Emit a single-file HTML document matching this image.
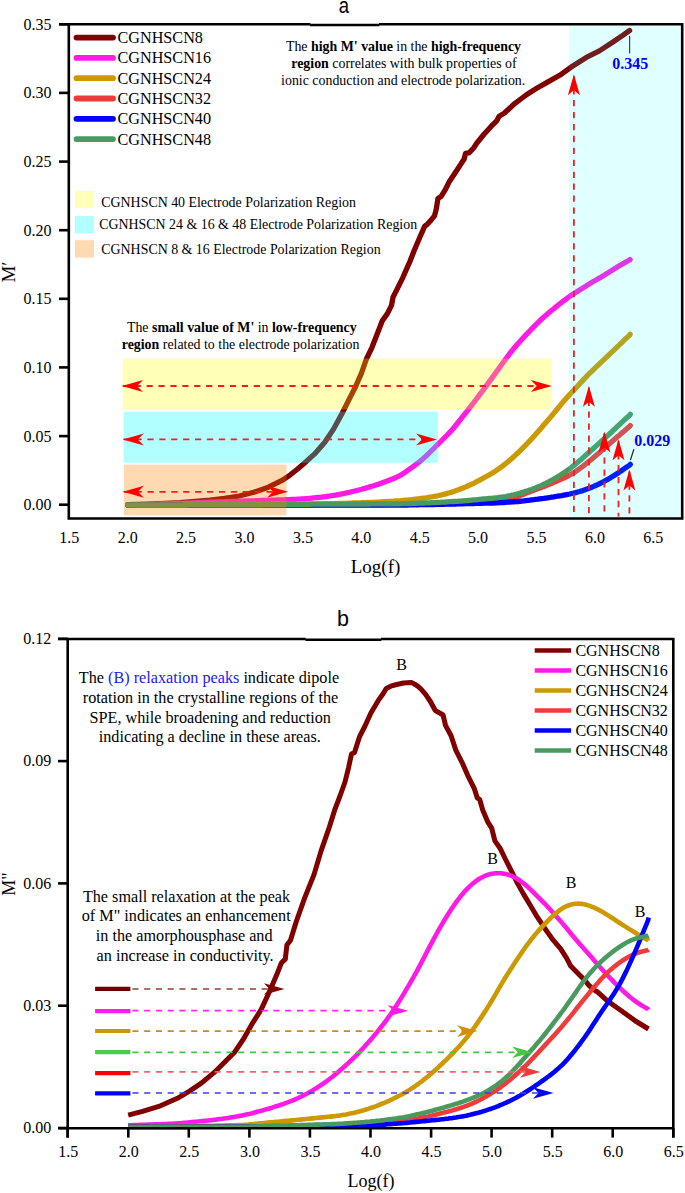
<!DOCTYPE html>
<html><head><meta charset="utf-8"><style>
html,body{margin:0;padding:0;background:#fff;}
svg{display:block;}
text{font-family:"Liberation Serif",serif;}
.sans{font-family:"Liberation Sans",sans-serif;}
</style></head><body>
<svg width="685" height="1193" viewBox="0 0 685 1193">
<rect width="685" height="1193" fill="#fff"/>

<polyline points="127.7,504.9 149.0,504.2 180.0,502.6 210.0,500.2 224.6,498.4 239.2,496.0 253.8,492.3 268.4,487.2 283.0,479.9 290.3,474.8 297.6,469.0 304.0,463.5 314.6,453.9 324.8,442.2 333.6,429.1 342.3,413.0 349.6,398.4 355.5,386.7 361.3,373.6 366.4,359.0 371.8,347.8 377.2,334.0 382.3,320.7 387.4,313.6 391.5,305.4 393.0,297.2 396.6,290.1 400.7,281.9 402.7,277.8 406.3,269.6 409.9,261.5 414.0,251.0 419.3,238.5 424.6,226.4 427.5,224.1 431.6,219.4 434.5,215.9 436.3,208.9 438.0,198.4 441.0,196.6 445.0,190.2 449.7,180.9 454.4,173.9 460.2,165.1 464.3,158.7 465.5,153.4 469.0,152.8 473.6,148.2 476.5,143.5 483.8,134.5 491.1,126.4 496.9,120.6 499.1,116.2 504.2,113.3 514.4,103.8 526.1,95.0 536.3,88.5 548.0,81.9 559.7,75.3 572.0,66.5 586.3,57.4 599.4,50.9 612.6,42.3 623.1,35.1 629.6,30.5" fill="none" stroke="#800000" stroke-width="5.3" stroke-linecap="round" stroke-linejoin="round"/>
<polyline points="127.7,504.6 129.7,504.6 131.7,504.5 133.7,504.5 135.7,504.5 137.7,504.4 139.7,504.4 141.7,504.4 143.7,504.3 145.7,504.3 147.7,504.3 149.7,504.2 151.7,504.2 153.7,504.2 155.7,504.1 157.7,504.1 159.7,504.1 161.7,504.0 163.7,504.0 165.7,504.0 167.7,503.9 169.7,503.9 171.7,503.8 173.7,503.7 175.7,503.7 177.7,503.6 179.7,503.5 181.7,503.4 183.7,503.3 185.7,503.2 187.7,503.1 189.7,503.1 191.7,503.0 193.7,502.9 195.7,502.8 197.7,502.7 199.7,502.6 201.7,502.6 203.7,502.5 205.7,502.4 207.7,502.3 209.7,502.2 211.7,502.2 213.7,502.1 215.7,502.0 217.7,502.0 219.7,501.9 221.7,501.8 223.7,501.8 225.7,501.7 227.7,501.6 229.7,501.6 231.7,501.5 233.7,501.4 235.7,501.4 237.7,501.3 239.7,501.2 241.7,501.2 243.7,501.1 245.7,501.0 247.7,501.0 249.7,500.9 251.7,500.8 253.7,500.8 255.7,500.7 257.7,500.6 259.7,500.6 261.7,500.5 263.7,500.5 265.7,500.4 267.7,500.3 269.7,500.3 271.7,500.2 273.7,500.1 275.7,500.1 277.7,500.0 279.7,499.9 281.7,499.9 283.7,499.8 285.7,499.7 287.7,499.7 289.7,499.6 291.7,499.5 293.7,499.4 295.7,499.3 297.7,499.2 299.7,499.1 301.7,498.9 303.7,498.8 305.7,498.6 307.7,498.5 309.7,498.3 311.7,498.1 313.7,497.9 315.7,497.7 317.7,497.5 319.7,497.3 321.7,497.1 323.7,496.8 325.7,496.5 327.7,496.3 329.7,496.0 331.7,495.7 333.7,495.4 335.7,495.1 337.7,494.7 339.7,494.3 341.7,493.9 343.7,493.5 345.7,493.1 347.7,492.7 349.7,492.2 351.7,491.7 353.7,491.2 355.7,490.7 357.7,490.2 359.7,489.7 361.7,489.2 363.7,488.6 365.7,488.1 367.7,487.5 369.7,486.9 371.7,486.3 373.7,485.7 375.7,485.0 377.7,484.4 379.7,483.7 381.7,483.0 383.7,482.2 385.7,481.5 387.7,480.8 389.7,480.0 391.7,479.2 393.7,478.5 395.7,477.6 397.7,476.7 399.7,475.7 401.7,474.5 403.7,473.2 405.7,471.9 407.7,470.4 409.7,469.0 411.7,467.6 413.7,466.1 415.7,464.6 417.7,463.1 419.7,461.5 421.7,459.9 423.7,458.1 425.7,456.4 427.7,454.5 429.7,452.5 431.7,450.5 433.7,448.5 435.7,446.5 437.7,444.5 439.7,442.5 441.7,440.5 443.7,438.5 445.7,436.5 447.7,434.5 449.7,432.4 451.7,430.2 453.7,427.9 455.7,425.5 457.7,423.0 459.7,420.4 461.7,417.9 463.7,415.4 465.7,412.8 467.7,410.3 469.7,407.7 471.7,405.1 473.7,402.6 475.7,400.0 477.7,397.4 479.7,394.7 481.7,392.0 483.7,389.3 485.7,386.6 487.7,383.9 489.7,381.1 491.7,378.4 493.7,375.6 495.7,372.8 497.7,370.1 499.7,367.3 501.7,364.5 503.7,361.7 505.7,359.0 507.7,356.3 509.7,353.7 511.7,351.1 513.7,348.6 515.7,346.2 517.7,343.9 519.7,341.7 521.7,339.5 523.7,337.3 525.7,335.2 527.7,333.1 529.7,331.0 531.7,328.9 533.7,326.9 535.7,324.8 537.7,322.9 539.7,320.9 541.7,319.0 543.7,317.2 545.7,315.4 547.7,313.7 549.7,312.0 551.7,310.3 553.7,308.7 555.7,307.1 557.7,305.5 559.7,303.9 561.7,302.4 563.7,300.8 565.7,299.3 567.7,297.8 569.7,296.4 571.7,295.0 573.7,293.7 575.7,292.4 577.7,291.2 579.7,289.9 581.7,288.7 583.7,287.4 585.7,286.2 587.7,284.9 589.7,283.7 591.7,282.5 593.7,281.3 595.7,280.2 597.7,279.0 599.7,277.9 601.7,276.7 603.7,275.5 605.7,274.3 607.7,273.1 609.7,271.8 611.7,270.6 613.7,269.3 615.7,268.1 617.7,266.8 619.7,265.6 621.7,264.4 623.7,263.2 625.7,262.1 627.7,261.0 629.7,260.0 630.1,259.5" fill="none" stroke="#ff1ae6" stroke-width="5.3" stroke-linecap="round" stroke-linejoin="round"/>
<polyline points="127.7,504.6 129.7,504.6 131.7,504.6 133.7,504.6 135.7,504.6 137.7,504.6 139.7,504.6 141.7,504.6 143.7,504.6 145.7,504.6 147.7,504.6 149.7,504.6 151.7,504.6 153.7,504.6 155.7,504.6 157.7,504.6 159.7,504.5 161.7,504.5 163.7,504.5 165.7,504.5 167.7,504.5 169.7,504.5 171.7,504.5 173.7,504.5 175.7,504.5 177.7,504.5 179.7,504.5 181.7,504.5 183.7,504.5 185.7,504.5 187.7,504.5 189.7,504.5 191.7,504.5 193.7,504.5 195.7,504.5 197.7,504.5 199.7,504.5 201.7,504.5 203.7,504.5 205.7,504.5 207.7,504.5 209.7,504.5 211.7,504.5 213.7,504.5 215.7,504.5 217.7,504.5 219.7,504.4 221.7,504.4 223.7,504.4 225.7,504.4 227.7,504.4 229.7,504.4 231.7,504.4 233.7,504.4 235.7,504.4 237.7,504.4 239.7,504.4 241.7,504.4 243.7,504.4 245.7,504.4 247.7,504.4 249.7,504.4 251.7,504.4 253.7,504.4 255.7,504.4 257.7,504.3 259.7,504.3 261.7,504.3 263.7,504.3 265.7,504.3 267.7,504.3 269.7,504.3 271.7,504.2 273.7,504.2 275.7,504.2 277.7,504.2 279.7,504.2 281.7,504.2 283.7,504.1 285.7,504.1 287.7,504.1 289.7,504.1 291.7,504.1 293.7,504.1 295.7,504.1 297.7,504.0 299.7,504.0 301.7,504.0 303.7,504.0 305.7,504.0 307.7,504.0 309.7,504.0 311.7,503.9 313.7,503.9 315.7,503.9 317.7,503.9 319.7,503.9 321.7,503.9 323.7,503.8 325.7,503.8 327.7,503.8 329.7,503.8 331.7,503.7 333.7,503.7 335.7,503.6 337.7,503.5 339.7,503.5 341.7,503.4 343.7,503.3 345.7,503.3 347.7,503.2 349.7,503.1 351.7,503.1 353.7,503.0 355.7,502.9 357.7,502.9 359.7,502.8 361.7,502.7 363.7,502.6 365.7,502.6 367.7,502.5 369.7,502.4 371.7,502.4 373.7,502.3 375.7,502.2 377.7,502.1 379.7,502.0 381.7,501.8 383.7,501.7 385.7,501.6 387.7,501.5 389.7,501.4 391.7,501.3 393.7,501.2 395.7,501.0 397.7,500.9 399.7,500.8 401.7,500.6 403.7,500.4 405.7,500.2 407.7,500.1 409.7,499.9 411.7,499.7 413.7,499.4 415.7,499.2 417.7,499.0 419.7,498.7 421.7,498.4 423.7,498.1 425.7,497.9 427.7,497.6 429.7,497.2 431.7,496.9 433.7,496.5 435.7,496.1 437.7,495.8 439.7,495.3 441.7,494.9 443.7,494.4 445.7,493.9 447.7,493.3 449.7,492.7 451.7,492.1 453.7,491.5 455.7,490.8 457.7,490.1 459.7,489.3 461.7,488.5 463.7,487.7 465.7,486.9 467.7,486.0 469.7,485.1 471.7,484.2 473.7,483.3 475.7,482.2 477.7,481.2 479.7,480.1 481.7,479.0 483.7,477.9 485.7,476.8 487.7,475.7 489.7,474.6 491.7,473.4 493.7,472.2 495.7,470.9 497.7,469.5 499.7,468.1 501.7,466.6 503.7,465.1 505.7,463.6 507.7,461.9 509.7,460.2 511.7,458.5 513.7,456.7 515.7,454.9 517.7,453.0 519.7,451.1 521.7,449.1 523.7,447.1 525.7,445.1 527.7,443.0 529.7,440.9 531.7,438.7 533.7,436.5 535.7,434.3 537.7,432.0 539.7,429.7 541.7,427.4 543.7,425.1 545.7,422.8 547.7,420.5 549.7,418.1 551.7,415.8 553.7,413.4 555.7,411.0 557.7,408.5 559.7,406.1 561.7,403.6 563.7,401.2 565.7,398.9 567.7,396.7 569.7,394.5 571.7,392.4 573.7,390.3 575.7,388.1 577.7,386.0 579.7,383.8 581.7,381.6 583.7,379.4 585.7,377.3 587.7,375.2 589.7,373.2 591.7,371.3 593.7,369.3 595.7,367.4 597.7,365.5 599.7,363.6 601.7,361.7 603.7,359.8 605.7,357.9 607.7,356.0 609.7,354.1 611.7,352.2 613.7,350.3 615.7,348.4 617.7,346.5 619.7,344.5 621.7,342.6 623.7,340.6 625.7,338.7 627.7,336.9 629.7,335.1 630.1,334.2" fill="none" stroke="#cc9900" stroke-width="5.3" stroke-linecap="round" stroke-linejoin="round"/>
<polyline points="127.7,504.9 129.7,504.9 131.7,504.9 133.7,504.9 135.7,504.9 137.7,504.9 139.7,504.9 141.7,504.9 143.7,504.9 145.7,504.9 147.7,504.9 149.7,504.9 151.7,504.9 153.7,504.9 155.7,504.9 157.7,504.9 159.7,504.9 161.7,504.9 163.7,504.9 165.7,504.9 167.7,504.9 169.7,504.9 171.7,504.9 173.7,504.9 175.7,504.9 177.7,504.9 179.7,504.9 181.7,504.9 183.7,504.9 185.7,504.9 187.7,504.9 189.7,504.9 191.7,504.9 193.7,504.9 195.7,504.9 197.7,504.9 199.7,504.9 201.7,504.9 203.7,504.9 205.7,504.9 207.7,504.9 209.7,504.9 211.7,504.9 213.7,504.9 215.7,504.8 217.7,504.8 219.7,504.8 221.7,504.8 223.7,504.8 225.7,504.8 227.7,504.8 229.7,504.8 231.7,504.8 233.7,504.8 235.7,504.8 237.7,504.8 239.7,504.8 241.7,504.8 243.7,504.8 245.7,504.8 247.7,504.8 249.7,504.8 251.7,504.8 253.7,504.8 255.7,504.8 257.7,504.8 259.7,504.8 261.7,504.8 263.7,504.8 265.7,504.8 267.7,504.8 269.7,504.8 271.7,504.8 273.7,504.8 275.7,504.8 277.7,504.8 279.7,504.8 281.7,504.8 283.7,504.8 285.7,504.8 287.7,504.8 289.7,504.8 291.7,504.8 293.7,504.8 295.7,504.8 297.7,504.8 299.7,504.8 301.7,504.8 303.7,504.8 305.7,504.8 307.7,504.8 309.7,504.8 311.7,504.8 313.7,504.7 315.7,504.7 317.7,504.7 319.7,504.7 321.7,504.7 323.7,504.7 325.7,504.7 327.7,504.7 329.7,504.7 331.7,504.7 333.7,504.7 335.7,504.7 337.7,504.6 339.7,504.6 341.7,504.6 343.7,504.6 345.7,504.6 347.7,504.6 349.7,504.6 351.7,504.6 353.7,504.6 355.7,504.6 357.7,504.6 359.7,504.6 361.7,504.6 363.7,504.5 365.7,504.5 367.7,504.5 369.7,504.5 371.7,504.5 373.7,504.5 375.7,504.5 377.7,504.5 379.7,504.5 381.7,504.5 383.7,504.5 385.7,504.5 387.7,504.4 389.7,504.4 391.7,504.4 393.7,504.4 395.7,504.4 397.7,504.4 399.7,504.4 401.7,504.4 403.7,504.3 405.7,504.3 407.7,504.3 409.7,504.2 411.7,504.2 413.7,504.2 415.7,504.1 417.7,504.1 419.7,504.1 421.7,504.1 423.7,504.0 425.7,504.0 427.7,504.0 429.7,503.9 431.7,503.9 433.7,503.9 435.7,503.8 437.7,503.8 439.7,503.8 441.7,503.7 443.7,503.7 445.7,503.7 447.7,503.6 449.7,503.6 451.7,503.5 453.7,503.5 455.7,503.4 457.7,503.3 459.7,503.3 461.7,503.2 463.7,503.1 465.7,503.1 467.7,503.0 469.7,502.9 471.7,502.9 473.7,502.8 475.7,502.7 477.7,502.6 479.7,502.5 481.7,502.4 483.7,502.2 485.7,502.1 487.7,501.9 489.7,501.7 491.7,501.5 493.7,501.3 495.7,501.1 497.7,500.8 499.7,500.6 501.7,500.2 503.7,499.9 505.7,499.5 507.7,499.0 509.7,498.6 511.7,498.1 513.7,497.6 515.7,497.0 517.7,496.4 519.7,495.7 521.7,494.9 523.7,494.2 525.7,493.4 527.7,492.6 529.7,491.9 531.7,491.1 533.7,490.3 535.7,489.6 537.7,488.8 539.7,488.0 541.7,487.2 543.7,486.5 545.7,485.7 547.7,484.9 549.7,484.1 551.7,483.3 553.7,482.4 555.7,481.5 557.7,480.7 559.7,479.8 561.7,478.9 563.7,478.0 565.7,477.1 567.7,476.1 569.7,475.0 571.7,473.9 573.7,472.7 575.7,471.4 577.7,470.0 579.7,468.6 581.7,467.2 583.7,465.6 585.7,464.0 587.7,462.4 589.7,460.8 591.7,459.2 593.7,457.5 595.7,455.8 597.7,454.1 599.7,452.4 601.7,450.6 603.7,448.9 605.7,447.1 607.7,445.3 609.7,443.5 611.7,441.8 613.7,440.0 615.7,438.3 617.7,436.6 619.7,434.9 621.7,433.1 623.7,431.4 625.7,429.7 627.7,428.0 629.7,426.3 630.3,425.5" fill="none" stroke="#ee3c3c" stroke-width="5.3" stroke-linecap="round" stroke-linejoin="round"/>
<polyline points="127.7,504.9 129.7,504.9 131.7,504.9 133.7,504.9 135.7,504.9 137.7,504.9 139.7,504.9 141.7,504.9 143.7,504.9 145.7,504.9 147.7,504.9 149.7,504.9 151.7,504.9 153.7,504.9 155.7,504.9 157.7,504.9 159.7,504.9 161.7,504.9 163.7,504.9 165.7,504.9 167.7,504.9 169.7,504.9 171.7,504.9 173.7,504.9 175.7,504.9 177.7,504.9 179.7,504.9 181.7,504.9 183.7,504.9 185.7,504.9 187.7,504.9 189.7,505.0 191.7,505.0 193.7,505.0 195.7,505.0 197.7,505.0 199.7,505.0 201.7,505.0 203.7,505.0 205.7,505.0 207.7,505.0 209.7,505.0 211.7,505.0 213.7,505.0 215.7,505.0 217.7,505.0 219.7,505.0 221.7,505.0 223.7,505.0 225.7,505.0 227.7,505.0 229.7,505.0 231.7,505.0 233.7,505.0 235.7,505.0 237.7,505.0 239.7,505.0 241.7,505.0 243.7,505.0 245.7,505.0 247.7,505.0 249.7,505.0 251.7,505.0 253.7,505.0 255.7,505.0 257.7,505.0 259.7,505.0 261.7,505.0 263.7,505.0 265.7,505.0 267.7,505.0 269.7,505.0 271.7,505.0 273.7,505.0 275.7,505.1 277.7,505.1 279.7,505.1 281.7,505.1 283.7,505.1 285.7,505.1 287.7,505.1 289.7,505.1 291.7,505.1 293.7,505.1 295.7,505.1 297.7,505.1 299.7,505.1 301.7,505.1 303.7,505.1 305.7,505.1 307.7,505.1 309.7,505.1 311.7,505.1 313.7,505.1 315.7,505.1 317.7,505.1 319.7,505.1 321.7,505.1 323.7,505.1 325.7,505.2 327.7,505.2 329.7,505.2 331.7,505.2 333.7,505.2 335.7,505.2 337.7,505.2 339.7,505.2 341.7,505.2 343.7,505.2 345.7,505.2 347.7,505.2 349.7,505.2 351.7,505.2 353.7,505.2 355.7,505.2 357.7,505.2 359.7,505.2 361.7,505.2 363.7,505.2 365.7,505.2 367.7,505.2 369.7,505.2 371.7,505.2 373.7,505.2 375.7,505.1 377.7,505.1 379.7,505.1 381.7,505.1 383.7,505.1 385.7,505.1 387.7,505.1 389.7,505.1 391.7,505.1 393.7,505.1 395.7,505.1 397.7,505.1 399.7,505.1 401.7,505.1 403.7,505.0 405.7,505.0 407.7,505.0 409.7,504.9 411.7,504.9 413.7,504.8 415.7,504.8 417.7,504.8 419.7,504.7 421.7,504.7 423.7,504.7 425.7,504.6 427.7,504.6 429.7,504.6 431.7,504.5 433.7,504.5 435.7,504.4 437.7,504.4 439.7,504.4 441.7,504.3 443.7,504.3 445.7,504.2 447.7,504.2 449.7,504.1 451.7,504.1 453.7,504.0 455.7,504.0 457.7,503.9 459.7,503.9 461.7,503.8 463.7,503.8 465.7,503.7 467.7,503.7 469.7,503.6 471.7,503.6 473.7,503.5 475.7,503.4 477.7,503.4 479.7,503.3 481.7,503.3 483.7,503.2 485.7,503.2 487.7,503.1 489.7,503.1 491.7,503.0 493.7,503.0 495.7,502.9 497.7,502.8 499.7,502.7 501.7,502.6 503.7,502.5 505.7,502.4 507.7,502.2 509.7,502.1 511.7,501.9 513.7,501.8 515.7,501.6 517.7,501.5 519.7,501.3 521.7,501.1 523.7,500.9 525.7,500.6 527.7,500.4 529.7,500.2 531.7,499.9 533.7,499.7 535.7,499.4 537.7,499.2 539.7,498.9 541.7,498.6 543.7,498.4 545.7,498.1 547.7,497.8 549.7,497.5 551.7,497.2 553.7,496.9 555.7,496.5 557.7,496.2 559.7,495.9 561.7,495.6 563.7,495.2 565.7,494.8 567.7,494.4 569.7,494.0 571.7,493.5 573.7,493.1 575.7,492.6 577.7,492.0 579.7,491.5 581.7,490.9 583.7,490.2 585.7,489.5 587.7,488.8 589.7,488.0 591.7,487.2 593.7,486.4 595.7,485.5 597.7,484.6 599.7,483.6 601.7,482.6 603.7,481.6 605.7,480.5 607.7,479.4 609.7,478.2 611.7,477.0 613.7,475.8 615.7,474.5 617.7,473.2 619.7,471.9 621.7,470.5 623.7,469.1 625.7,467.7 627.7,466.4 629.7,465.1 630.3,464.4" fill="none" stroke="#0000ff" stroke-width="5.3" stroke-linecap="round" stroke-linejoin="round"/>
<polyline points="127.7,504.9 129.7,504.9 131.7,504.9 133.7,504.9 135.7,504.9 137.7,504.9 139.7,504.9 141.7,504.9 143.7,504.9 145.7,504.9 147.7,504.8 149.7,504.8 151.7,504.8 153.7,504.8 155.7,504.8 157.7,504.8 159.7,504.8 161.7,504.8 163.7,504.8 165.7,504.8 167.7,504.8 169.7,504.8 171.7,504.8 173.7,504.8 175.7,504.8 177.7,504.8 179.7,504.8 181.7,504.8 183.7,504.7 185.7,504.7 187.7,504.7 189.7,504.7 191.7,504.7 193.7,504.7 195.7,504.7 197.7,504.7 199.7,504.7 201.7,504.7 203.7,504.7 205.7,504.7 207.7,504.7 209.7,504.7 211.7,504.7 213.7,504.6 215.7,504.6 217.7,504.6 219.7,504.6 221.7,504.6 223.7,504.6 225.7,504.6 227.7,504.6 229.7,504.6 231.7,504.6 233.7,504.6 235.7,504.6 237.7,504.5 239.7,504.5 241.7,504.5 243.7,504.5 245.7,504.5 247.7,504.5 249.7,504.5 251.7,504.5 253.7,504.5 255.7,504.5 257.7,504.5 259.7,504.5 261.7,504.5 263.7,504.4 265.7,504.4 267.7,504.4 269.7,504.4 271.7,504.4 273.7,504.4 275.7,504.4 277.7,504.4 279.7,504.4 281.7,504.4 283.7,504.4 285.7,504.4 287.7,504.3 289.7,504.3 291.7,504.3 293.7,504.3 295.7,504.3 297.7,504.3 299.7,504.3 301.7,504.3 303.7,504.3 305.7,504.3 307.7,504.3 309.7,504.3 311.7,504.2 313.7,504.2 315.7,504.2 317.7,504.2 319.7,504.2 321.7,504.2 323.7,504.2 325.7,504.2 327.7,504.2 329.7,504.2 331.7,504.1 333.7,504.1 335.7,504.1 337.7,504.1 339.7,504.1 341.7,504.1 343.7,504.1 345.7,504.1 347.7,504.1 349.7,504.1 351.7,504.0 353.7,504.0 355.7,504.0 357.7,504.0 359.7,504.0 361.7,504.0 363.7,504.0 365.7,504.0 367.7,504.0 369.7,504.0 371.7,503.9 373.7,503.9 375.7,503.9 377.7,503.9 379.7,503.9 381.7,503.9 383.7,503.9 385.7,503.9 387.7,503.9 389.7,503.9 391.7,503.8 393.7,503.8 395.7,503.8 397.7,503.8 399.7,503.8 401.7,503.7 403.7,503.7 405.7,503.6 407.7,503.5 409.7,503.5 411.7,503.4 413.7,503.3 415.7,503.3 417.7,503.2 419.7,503.1 421.7,503.1 423.7,503.0 425.7,502.9 427.7,502.8 429.7,502.8 431.7,502.7 433.7,502.6 435.7,502.5 437.7,502.4 439.7,502.3 441.7,502.2 443.7,502.1 445.7,502.0 447.7,501.8 449.7,501.7 451.7,501.6 453.7,501.5 455.7,501.4 457.7,501.3 459.7,501.1 461.7,501.0 463.7,500.8 465.7,500.6 467.7,500.5 469.7,500.3 471.7,500.1 473.7,499.9 475.7,499.8 477.7,499.6 479.7,499.4 481.7,499.2 483.7,499.0 485.7,498.9 487.7,498.7 489.7,498.5 491.7,498.3 493.7,498.1 495.7,497.9 497.7,497.7 499.7,497.4 501.7,497.1 503.7,496.8 505.7,496.5 507.7,496.1 509.7,495.7 511.7,495.2 513.7,494.8 515.7,494.3 517.7,493.8 519.7,493.2 521.7,492.6 523.7,492.0 525.7,491.4 527.7,490.8 529.7,490.1 531.7,489.4 533.7,488.6 535.7,487.9 537.7,487.0 539.7,486.2 541.7,485.3 543.7,484.3 545.7,483.4 547.7,482.4 549.7,481.3 551.7,480.2 553.7,479.1 555.7,478.0 557.7,476.8 559.7,475.6 561.7,474.3 563.7,473.0 565.7,471.6 567.7,470.2 569.7,468.8 571.7,467.2 573.7,465.7 575.7,464.0 577.7,462.3 579.7,460.6 581.7,458.9 583.7,457.1 585.7,455.3 587.7,453.5 589.7,451.7 591.7,449.9 593.7,448.2 595.7,446.4 597.7,444.6 599.7,442.8 601.7,441.0 603.7,439.2 605.7,437.4 607.7,435.6 609.7,433.7 611.7,431.9 613.7,430.0 615.7,428.1 617.7,426.2 619.7,424.3 621.7,422.4 623.7,420.6 625.7,418.7 627.7,416.9 629.7,415.2 630.3,414.3" fill="none" stroke="#4a9a60" stroke-width="5.3" stroke-linecap="round" stroke-linejoin="round"/>
<rect x="122.5" y="358.6" width="429.5" height="50.8" fill="rgb(255,255,0)" fill-opacity="0.28"/>
<rect x="123.5" y="411.7" width="314.5" height="51.1" fill="rgb(0,255,255)" fill-opacity="0.3"/>
<rect x="123.8" y="464.6" width="162.8" height="50.8" fill="rgb(255,128,0)" fill-opacity="0.3"/>
<rect x="569" y="25.5" width="112" height="491.5" fill="rgb(0,255,255)" fill-opacity="0.12"/>
<line x1="122.8" y1="386.0" x2="539.8" y2="386.0" stroke="#ff1a1a" stroke-width="1.8" stroke-dasharray="6.2,5.7"/>
<polygon points="122.0,386.0 143.0,380.0 137.0,386.0 143.0,392.0" fill="#ff0000"/>
<polygon points="551.8,386.0 530.8,380.0 536.8,386.0 530.8,392.0" fill="#ff0000"/>
<line x1="123.6" y1="439.4" x2="425.0" y2="439.4" stroke="#ff1a1a" stroke-width="1.8" stroke-dasharray="6.2,5.7"/>
<polygon points="122.8,439.4 143.8,433.4 137.8,439.4 143.8,445.4" fill="#ff0000"/>
<polygon points="437.0,439.4 416.0,433.4 422.0,439.4 416.0,445.4" fill="#ff0000"/>
<line x1="123.7" y1="491.8" x2="276.0" y2="491.8" stroke="#ff1a1a" stroke-width="1.8" stroke-dasharray="6.2,5.7"/>
<polygon points="122.9,491.8 143.9,485.8 137.9,491.8 143.9,497.8" fill="#ff0000"/>
<polygon points="288.0,491.8 267.0,485.8 273.0,491.8 267.0,497.8" fill="#ff0000"/>
<line x1="573.9" y1="76.2" x2="573.9" y2="516.5" stroke="#ff1a1a" stroke-width="1.8" stroke-dasharray="6.3,5.63"/>
<polygon points="573.9,74.2 567.9,95.2 573.9,90.2 579.9,95.2" fill="#ff0000"/>
<line x1="588.9" y1="387.7" x2="588.9" y2="516.5" stroke="#ff1a1a" stroke-width="1.8" stroke-dasharray="6.3,5.63"/>
<polygon points="588.9,385.7 582.9,406.7 588.9,401.7 594.9,406.7" fill="#ff0000"/>
<line x1="604.4" y1="433.6" x2="604.4" y2="516.5" stroke="#ff1a1a" stroke-width="1.8" stroke-dasharray="6.3,5.63"/>
<polygon points="604.4,431.6 598.4,452.6 604.4,447.6 610.4,452.6" fill="#ff0000"/>
<line x1="618.5" y1="441.2" x2="618.5" y2="516.5" stroke="#ff1a1a" stroke-width="1.8" stroke-dasharray="6.3,5.63"/>
<polygon points="618.5,439.2 612.5,460.2 618.5,455.2 624.5,460.2" fill="#ff0000"/>
<line x1="629.4" y1="471.4" x2="629.4" y2="516.5" stroke="#ff1a1a" stroke-width="1.8" stroke-dasharray="6.3,5.63"/>
<polygon points="629.4,469.4 623.4,490.4 629.4,485.4 635.4,490.4" fill="#ff0000"/>
<path d="M59,24.3 H310.3 M379,24.3 H682.2 V518.5 H68.8 V23.1" fill="none" stroke="#000" stroke-width="2.6"/>
<line x1="310" y1="25.0" x2="379.3" y2="25.0" stroke="#000" stroke-width="2.4"/>
<line x1="59" y1="504.7" x2="68.8" y2="504.7" stroke="#000" stroke-width="2.6"/>
<text x="51.6" y="510.1" font-size="16" text-anchor="end">0.00</text>
<line x1="59" y1="436.1" x2="68.8" y2="436.1" stroke="#000" stroke-width="2.6"/>
<text x="51.6" y="441.5" font-size="16" text-anchor="end">0.05</text>
<line x1="59" y1="367.4" x2="68.8" y2="367.4" stroke="#000" stroke-width="2.6"/>
<text x="51.6" y="372.8" font-size="16" text-anchor="end">0.10</text>
<line x1="59" y1="298.8" x2="68.8" y2="298.8" stroke="#000" stroke-width="2.6"/>
<text x="51.6" y="304.2" font-size="16" text-anchor="end">0.15</text>
<line x1="59" y1="230.2" x2="68.8" y2="230.2" stroke="#000" stroke-width="2.6"/>
<text x="51.6" y="235.6" font-size="16" text-anchor="end">0.20</text>
<line x1="59" y1="161.6" x2="68.8" y2="161.6" stroke="#000" stroke-width="2.6"/>
<text x="51.6" y="167.0" font-size="16" text-anchor="end">0.25</text>
<line x1="59" y1="92.9" x2="68.8" y2="92.9" stroke="#000" stroke-width="2.6"/>
<text x="51.6" y="98.3" font-size="16" text-anchor="end">0.30</text>
<line x1="59" y1="24.3" x2="68.8" y2="24.3" stroke="#000" stroke-width="2.6"/>
<text x="51.6" y="29.7" font-size="16" text-anchor="end">0.35</text>
<text x="69.3" y="542.5" font-size="16" text-anchor="middle">1.5</text>
<text x="127.7" y="542.5" font-size="16" text-anchor="middle">2.0</text>
<text x="186.1" y="542.5" font-size="16" text-anchor="middle">2.5</text>
<text x="244.5" y="542.5" font-size="16" text-anchor="middle">3.0</text>
<text x="302.9" y="542.5" font-size="16" text-anchor="middle">3.5</text>
<text x="361.3" y="542.5" font-size="16" text-anchor="middle">4.0</text>
<text x="419.7" y="542.5" font-size="16" text-anchor="middle">4.5</text>
<text x="478.1" y="542.5" font-size="16" text-anchor="middle">5.0</text>
<text x="536.5" y="542.5" font-size="16" text-anchor="middle">5.5</text>
<text x="594.9" y="542.5" font-size="16" text-anchor="middle">6.0</text>
<text x="653.3" y="542.5" font-size="16" text-anchor="middle">6.5</text>
<text x="375.5" y="573.3" font-size="19" text-anchor="middle">Log(f)</text>
<text transform="translate(14.8,272) rotate(-90)" font-size="19" text-anchor="middle">M&#8242;</text>
<text class="sans" transform="translate(343.9,13) scale(0.86,1)" font-size="21.5" text-anchor="middle">a</text>
<line x1="76.5" y1="37.6" x2="113" y2="37.6" stroke="#800000" stroke-width="5.8" stroke-linecap="round"/>
<text x="117.5" y="43.1" font-size="16.2">CGNHSCN8</text>
<line x1="76.5" y1="57.9" x2="113" y2="57.9" stroke="#ff1ae6" stroke-width="5.8" stroke-linecap="round"/>
<text x="117.5" y="63.4" font-size="16.2">CGNHSCN16</text>
<line x1="76.5" y1="78.2" x2="113" y2="78.2" stroke="#cc9900" stroke-width="5.8" stroke-linecap="round"/>
<text x="117.5" y="83.7" font-size="16.2">CGNHSCN24</text>
<line x1="76.5" y1="98.5" x2="113" y2="98.5" stroke="#ee3c3c" stroke-width="5.8" stroke-linecap="round"/>
<text x="117.5" y="104.0" font-size="16.2">CGNHSCN32</text>
<line x1="76.5" y1="118.8" x2="113" y2="118.8" stroke="#0000ff" stroke-width="5.8" stroke-linecap="round"/>
<text x="117.5" y="124.3" font-size="16.2">CGNHSCN40</text>
<line x1="76.5" y1="139.1" x2="113" y2="139.1" stroke="#4a9a60" stroke-width="5.8" stroke-linecap="round"/>
<text x="117.5" y="144.6" font-size="16.2">CGNHSCN48</text>
<rect x="75" y="190.8" width="19" height="17.4" fill="rgb(255,255,0)" fill-opacity="0.28"/>
<text x="101.3" y="206.6" font-size="13.9">CGNHSCN 40 Electrode Polarization Region</text>
<rect x="75" y="216.0" width="19" height="17.4" fill="rgb(0,255,255)" fill-opacity="0.3"/>
<text x="99.2" y="229.1" font-size="13.9">CGNHSCN 24 &amp; 16 &amp; 48 Electrode Polarization Region</text>
<rect x="75" y="240.2" width="19" height="17.4" fill="rgb(255,128,0)" fill-opacity="0.3"/>
<text x="101.3" y="254.3" font-size="13.9">CGNHSCN 8 &amp; 16 Electrode Polarization Region</text>
<text x="403.5" y="50.5" font-size="13.9" text-anchor="middle">The <tspan font-weight="bold">high M' value</tspan> in the <tspan font-weight="bold">high-frequency</tspan></text>
<text x="404" y="67.8" font-size="13.9" text-anchor="middle"><tspan font-weight="bold">region</tspan> correlates with bulk properties of</text>
<text x="403.2" y="85.2" font-size="13.9" text-anchor="middle">ionic conduction and electrode polarization.</text>
<text x="241.8" y="331.7" font-size="13.9" text-anchor="middle">The <tspan font-weight="bold">small value of M'</tspan> in <tspan font-weight="bold">low-frequency</tspan></text>
<text x="240.6" y="348.6" font-size="13.9" text-anchor="middle"><tspan font-weight="bold">region</tspan> related to the electrode polarization</text>
<line x1="629.6" y1="35.8" x2="629.6" y2="53.5" stroke="#444" stroke-width="1.2"/>
<text x="612.3" y="68.6" font-size="16" font-weight="bold" fill="#0000ff">0.345</text>
<line x1="630.4" y1="460" x2="633.9" y2="449.2" stroke="#222" stroke-width="1.2"/>
<text x="634.2" y="445.5" font-size="16" font-weight="bold" fill="#0000ff">0.029</text>
<polyline points="128.2,1115.2 142.5,1111.4 160.5,1105.8 177.4,1098.3 189.5,1091.1 201.7,1082.9 214.0,1072.7 226.3,1060.4 234.5,1052.3 243.5,1039.0 252.9,1022.6 261.1,1009.6 269.3,992.0 276.4,975.6 281.5,962.7 285.3,959.1 286.9,945.0 290.5,940.3 296.3,921.5 304.6,898.1 314.0,874.6 321.0,851.1 329.2,827.6 335.1,808.8 340.0,796.0 345.0,782.0 348.4,768.3 351.5,754.0 354.5,752.5 359.6,736.6 365.0,726.0 370.9,713.0 378.0,700.9 383.1,693.7 386.2,688.4 390.8,686.2 396.7,684.5 403.7,683.0 411.3,682.4 414.2,683.9 417.7,686.2 420.8,688.8 425.6,694.3 430.4,701.5 435.1,710.3 443.1,715.0 445.5,725.4 451.1,735.8 455.8,750.1 463.0,764.4 467.8,775.6 474.2,788.3 477.3,797.9 479.7,799.5 482.9,810.6 487.7,821.8 491.7,828.1 494.9,840.9 500.4,848.8 505.8,860.0 511.7,871.7 517.5,883.4 523.4,893.9 530.4,905.5 537.4,917.2 544.4,927.7 552.6,939.4 560.7,948.8 566.6,958.1 570.7,966.1 578.8,974.3 585.0,980.4 589.0,985.5 595.2,990.7 597.2,991.7 607.4,1000.9 610.0,1002.8 621.7,1011.0 635.5,1021.0 648.5,1029.0" fill="none" stroke="#800000" stroke-width="5.0" stroke-linecap="butt" stroke-linejoin="round"/>
<polyline points="128.2,1125.3 130.2,1125.2 132.2,1125.2 134.2,1125.1 136.2,1125.0 138.2,1125.0 140.2,1124.9 142.2,1124.8 144.2,1124.7 146.2,1124.7 148.2,1124.6 150.2,1124.5 152.2,1124.5 154.2,1124.4 156.2,1124.3 158.2,1124.3 160.2,1124.2 162.2,1124.1 164.2,1124.1 166.2,1124.0 168.2,1123.9 170.2,1123.8 172.2,1123.7 174.2,1123.6 176.2,1123.5 178.2,1123.4 180.2,1123.3 182.2,1123.1 184.2,1122.9 186.2,1122.7 188.2,1122.5 190.2,1122.3 192.2,1122.1 194.2,1121.9 196.2,1121.7 198.2,1121.5 200.2,1121.3 202.2,1121.1 204.2,1120.9 206.2,1120.7 208.2,1120.5 210.2,1120.3 212.2,1120.1 214.2,1119.8 216.2,1119.6 218.2,1119.3 220.2,1119.0 222.2,1118.8 224.2,1118.5 226.2,1118.2 228.2,1117.9 230.2,1117.6 232.2,1117.2 234.2,1116.9 236.2,1116.6 238.2,1116.2 240.2,1115.8 242.2,1115.4 244.2,1115.0 246.2,1114.6 248.2,1114.1 250.2,1113.7 252.2,1113.2 254.2,1112.6 256.2,1112.1 258.2,1111.6 260.2,1111.0 262.2,1110.5 264.2,1109.9 266.2,1109.3 268.2,1108.8 270.2,1108.2 272.2,1107.6 274.2,1106.9 276.2,1106.3 278.2,1105.7 280.2,1105.0 282.2,1104.3 284.2,1103.6 286.2,1102.9 288.2,1102.2 290.2,1101.4 292.2,1100.6 294.2,1099.8 296.2,1098.9 298.2,1098.0 300.2,1097.0 302.2,1096.1 304.2,1095.0 306.2,1094.0 308.2,1092.9 310.2,1091.8 312.2,1090.6 314.2,1089.4 316.2,1088.2 318.2,1086.9 320.2,1085.6 322.2,1084.3 324.2,1082.9 326.2,1081.5 328.2,1080.0 330.2,1078.5 332.2,1077.0 334.2,1075.3 336.2,1073.7 338.2,1072.0 340.2,1070.2 342.2,1068.5 344.2,1066.7 346.2,1064.9 348.2,1063.1 350.2,1061.2 352.2,1059.4 354.2,1057.4 356.2,1055.5 358.2,1053.4 360.2,1051.3 362.2,1049.2 364.2,1047.0 366.2,1044.7 368.2,1042.5 370.2,1040.2 372.2,1037.9 374.2,1035.6 376.2,1033.2 378.2,1030.8 380.2,1028.3 382.2,1025.7 384.2,1023.1 386.2,1020.5 388.2,1017.7 390.2,1014.9 392.2,1012.0 394.2,1009.0 396.2,1005.9 398.2,1002.8 400.2,999.6 402.2,996.4 404.2,993.1 406.2,989.7 408.2,986.4 410.2,982.9 412.2,979.5 414.2,975.9 416.2,972.3 418.2,968.6 420.2,964.9 422.2,961.0 424.2,957.2 426.2,953.3 428.2,949.4 430.2,945.6 432.2,941.9 434.2,938.1 436.2,934.5 438.2,930.9 440.2,927.3 442.2,923.9 444.2,920.5 446.2,917.2 448.2,914.0 450.2,910.9 452.2,907.9 454.2,905.0 456.2,902.2 458.2,899.5 460.2,896.9 462.2,894.4 464.2,892.1 466.2,889.9 468.2,887.8 470.2,885.9 472.2,884.1 474.2,882.5 476.2,880.9 478.2,879.5 480.2,878.3 482.2,877.2 484.2,876.2 486.2,875.4 488.2,874.7 490.2,874.1 492.2,873.7 494.2,873.4 496.2,873.2 498.2,873.2 500.2,873.2 502.2,873.4 504.2,873.7 506.2,874.1 508.2,874.7 510.2,875.4 512.2,876.2 514.2,877.2 516.2,878.3 518.2,879.5 520.2,880.8 522.2,882.3 524.2,883.8 526.2,885.5 528.2,887.3 530.2,889.2 532.2,891.1 534.2,893.1 536.2,895.1 538.2,897.1 540.2,899.1 542.2,901.1 544.2,903.2 546.2,905.2 548.2,907.4 550.2,909.5 552.2,911.7 554.2,913.9 556.2,916.1 558.2,918.4 560.2,920.7 562.2,923.1 564.2,925.4 566.2,927.8 568.2,930.2 570.2,932.7 572.2,935.1 574.2,937.5 576.2,939.9 578.2,942.3 580.2,944.6 582.2,946.8 584.2,949.1 586.2,951.3 588.2,953.5 590.2,955.8 592.2,958.1 594.2,960.4 596.2,962.7 598.2,965.0 600.2,967.2 602.2,969.5 604.2,971.7 606.2,973.9 608.2,976.0 610.2,978.2 612.2,980.2 614.2,982.3 616.2,984.3 618.2,986.3 620.2,988.2 622.2,990.1 624.2,992.0 626.2,993.8 628.2,995.5 630.2,997.2 632.2,998.8 634.2,1000.3 636.2,1001.8 638.2,1003.1 640.2,1004.5 642.2,1005.7 644.2,1006.9 646.2,1008.1 648.2,1009.2 648.6,1009.8" fill="none" stroke="#ff1ae6" stroke-width="4.6" stroke-linecap="butt" stroke-linejoin="round"/>
<polyline points="128.2,1126.6 130.2,1126.6 132.2,1126.6 134.2,1126.5 136.2,1126.5 138.2,1126.5 140.2,1126.5 142.2,1126.5 144.2,1126.5 146.2,1126.4 148.2,1126.4 150.2,1126.4 152.2,1126.4 154.2,1126.4 156.2,1126.4 158.2,1126.3 160.2,1126.3 162.2,1126.3 164.2,1126.3 166.2,1126.3 168.2,1126.3 170.2,1126.2 172.2,1126.2 174.2,1126.2 176.2,1126.2 178.2,1126.2 180.2,1126.2 182.2,1126.1 184.2,1126.1 186.2,1126.1 188.2,1126.1 190.2,1126.1 192.2,1126.1 194.2,1126.0 196.2,1126.0 198.2,1126.0 200.2,1126.0 202.2,1125.9 204.2,1125.9 206.2,1125.9 208.2,1125.8 210.2,1125.8 212.2,1125.7 214.2,1125.7 216.2,1125.6 218.2,1125.6 220.2,1125.6 222.2,1125.5 224.2,1125.5 226.2,1125.4 228.2,1125.4 230.2,1125.3 232.2,1125.3 234.2,1125.2 236.2,1125.2 238.2,1125.1 240.2,1125.0 242.2,1125.0 244.2,1124.9 246.2,1124.7 248.2,1124.6 250.2,1124.4 252.2,1124.2 254.2,1124.0 256.2,1123.8 258.2,1123.6 260.2,1123.4 262.2,1123.2 264.2,1123.0 266.2,1122.8 268.2,1122.6 270.2,1122.4 272.2,1122.3 274.2,1122.1 276.2,1121.9 278.2,1121.7 280.2,1121.5 282.2,1121.3 284.2,1121.1 286.2,1120.9 288.2,1120.8 290.2,1120.6 292.2,1120.4 294.2,1120.2 296.2,1120.0 298.2,1119.8 300.2,1119.6 302.2,1119.4 304.2,1119.2 306.2,1119.0 308.2,1118.8 310.2,1118.6 312.2,1118.4 314.2,1118.2 316.2,1118.0 318.2,1117.8 320.2,1117.6 322.2,1117.4 324.2,1117.2 326.2,1117.0 328.2,1116.8 330.2,1116.6 332.2,1116.4 334.2,1116.2 336.2,1115.9 338.2,1115.7 340.2,1115.4 342.2,1115.1 344.2,1114.7 346.2,1114.4 348.2,1114.0 350.2,1113.6 352.2,1113.2 354.2,1112.8 356.2,1112.3 358.2,1111.8 360.2,1111.3 362.2,1110.7 364.2,1110.1 366.2,1109.5 368.2,1108.9 370.2,1108.2 372.2,1107.5 374.2,1106.8 376.2,1106.1 378.2,1105.3 380.2,1104.5 382.2,1103.7 384.2,1102.9 386.2,1102.0 388.2,1101.2 390.2,1100.2 392.2,1099.3 394.2,1098.3 396.2,1097.3 398.2,1096.3 400.2,1095.3 402.2,1094.2 404.2,1093.0 406.2,1091.9 408.2,1090.6 410.2,1089.4 412.2,1088.1 414.2,1086.8 416.2,1085.4 418.2,1084.0 420.2,1082.5 422.2,1081.0 424.2,1079.4 426.2,1077.8 428.2,1076.2 430.2,1074.5 432.2,1072.7 434.2,1071.0 436.2,1069.2 438.2,1067.4 440.2,1065.5 442.2,1063.7 444.2,1061.7 446.2,1059.8 448.2,1057.8 450.2,1055.8 452.2,1053.8 454.2,1051.7 456.2,1049.6 458.2,1047.5 460.2,1045.3 462.2,1043.0 464.2,1040.6 466.2,1038.2 468.2,1035.7 470.2,1033.1 472.2,1030.4 474.2,1027.6 476.2,1024.8 478.2,1021.9 480.2,1018.9 482.2,1015.9 484.2,1012.9 486.2,1009.8 488.2,1006.6 490.2,1003.3 492.2,1000.0 494.2,996.6 496.2,993.1 498.2,989.6 500.2,986.2 502.2,982.8 504.2,979.5 506.2,976.3 508.2,973.1 510.2,970.0 512.2,966.9 514.2,963.8 516.2,960.8 518.2,957.8 520.2,954.8 522.2,951.9 524.2,949.0 526.2,946.2 528.2,943.5 530.2,940.8 532.2,938.3 534.2,935.8 536.2,933.4 538.2,931.1 540.2,928.9 542.2,926.7 544.2,924.6 546.2,922.5 548.2,920.5 550.2,918.5 552.2,916.6 554.2,914.8 556.2,913.0 558.2,911.4 560.2,909.9 562.2,908.5 564.2,907.3 566.2,906.3 568.2,905.5 570.2,904.8 572.2,904.3 574.2,903.9 576.2,903.7 578.2,903.6 580.2,903.7 582.2,903.9 584.2,904.3 586.2,904.8 588.2,905.4 590.2,906.1 592.2,906.8 594.2,907.7 596.2,908.6 598.2,909.6 600.2,910.7 602.2,911.8 604.2,913.0 606.2,914.2 608.2,915.4 610.2,916.7 612.2,918.0 614.2,919.3 616.2,920.7 618.2,922.0 620.2,923.3 622.2,924.6 624.2,925.9 626.2,927.1 628.2,928.4 630.2,929.6 632.2,930.8 634.2,932.0 636.2,933.2 638.2,934.5 640.2,935.7 642.2,936.9 644.2,938.0 646.2,939.2 648.2,940.3 648.6,940.9" fill="none" stroke="#cc9900" stroke-width="4.6" stroke-linecap="butt" stroke-linejoin="round"/>
<polyline points="128.2,1126.6 130.2,1126.6 132.2,1126.6 134.2,1126.6 136.2,1126.6 138.2,1126.6 140.2,1126.6 142.2,1126.6 144.2,1126.6 146.2,1126.6 148.2,1126.6 150.2,1126.6 152.2,1126.6 154.2,1126.6 156.2,1126.6 158.2,1126.6 160.2,1126.5 162.2,1126.5 164.2,1126.5 166.2,1126.5 168.2,1126.5 170.2,1126.5 172.2,1126.5 174.2,1126.5 176.2,1126.5 178.2,1126.5 180.2,1126.5 182.2,1126.5 184.2,1126.5 186.2,1126.5 188.2,1126.5 190.2,1126.5 192.2,1126.5 194.2,1126.5 196.2,1126.5 198.2,1126.5 200.2,1126.5 202.2,1126.5 204.2,1126.5 206.2,1126.5 208.2,1126.5 210.2,1126.5 212.2,1126.5 214.2,1126.5 216.2,1126.5 218.2,1126.5 220.2,1126.4 222.2,1126.4 224.2,1126.4 226.2,1126.4 228.2,1126.4 230.2,1126.4 232.2,1126.4 234.2,1126.4 236.2,1126.4 238.2,1126.4 240.2,1126.4 242.2,1126.4 244.2,1126.4 246.2,1126.4 248.2,1126.4 250.2,1126.4 252.2,1126.3 254.2,1126.3 256.2,1126.3 258.2,1126.2 260.2,1126.2 262.2,1126.2 264.2,1126.1 266.2,1126.1 268.2,1126.0 270.2,1126.0 272.2,1126.0 274.2,1125.9 276.2,1125.9 278.2,1125.8 280.2,1125.8 282.2,1125.8 284.2,1125.7 286.2,1125.7 288.2,1125.6 290.2,1125.6 292.2,1125.6 294.2,1125.5 296.2,1125.5 298.2,1125.5 300.2,1125.4 302.2,1125.4 304.2,1125.3 306.2,1125.3 308.2,1125.3 310.2,1125.2 312.2,1125.2 314.2,1125.1 316.2,1125.1 318.2,1125.1 320.2,1125.0 322.2,1125.0 324.2,1124.9 326.2,1124.9 328.2,1124.9 330.2,1124.8 332.2,1124.8 334.2,1124.7 336.2,1124.7 338.2,1124.7 340.2,1124.6 342.2,1124.6 344.2,1124.5 346.2,1124.5 348.2,1124.5 350.2,1124.4 352.2,1124.4 354.2,1124.4 356.2,1124.3 358.2,1124.3 360.2,1124.2 362.2,1124.2 364.2,1124.1 366.2,1124.1 368.2,1124.0 370.2,1123.9 372.2,1123.8 374.2,1123.7 376.2,1123.6 378.2,1123.4 380.2,1123.2 382.2,1123.0 384.2,1122.9 386.2,1122.7 388.2,1122.5 390.2,1122.3 392.2,1122.1 394.2,1121.9 396.2,1121.7 398.2,1121.5 400.2,1121.3 402.2,1121.0 404.2,1120.8 406.2,1120.5 408.2,1120.2 410.2,1119.8 412.2,1119.5 414.2,1119.1 416.2,1118.8 418.2,1118.4 420.2,1118.0 422.2,1117.6 424.2,1117.2 426.2,1116.8 428.2,1116.4 430.2,1115.9 432.2,1115.5 434.2,1115.0 436.2,1114.5 438.2,1114.0 440.2,1113.5 442.2,1113.0 444.2,1112.5 446.2,1112.0 448.2,1111.5 450.2,1110.9 452.2,1110.4 454.2,1109.8 456.2,1109.2 458.2,1108.6 460.2,1108.0 462.2,1107.3 464.2,1106.6 466.2,1105.9 468.2,1105.1 470.2,1104.3 472.2,1103.5 474.2,1102.6 476.2,1101.7 478.2,1100.7 480.2,1099.7 482.2,1098.7 484.2,1097.6 486.2,1096.5 488.2,1095.3 490.2,1094.1 492.2,1092.9 494.2,1091.6 496.2,1090.3 498.2,1088.9 500.2,1087.5 502.2,1086.0 504.2,1084.5 506.2,1082.9 508.2,1081.3 510.2,1079.7 512.2,1078.0 514.2,1076.3 516.2,1074.5 518.2,1072.7 520.2,1070.9 522.2,1069.0 524.2,1067.0 526.2,1065.1 528.2,1063.1 530.2,1061.0 532.2,1058.9 534.2,1056.8 536.2,1054.7 538.2,1052.6 540.2,1050.4 542.2,1048.2 544.2,1046.1 546.2,1043.9 548.2,1041.7 550.2,1039.5 552.2,1037.4 554.2,1035.2 556.2,1033.0 558.2,1030.7 560.2,1028.5 562.2,1026.2 564.2,1023.8 566.2,1021.4 568.2,1019.0 570.2,1016.6 572.2,1014.1 574.2,1011.6 576.2,1009.0 578.2,1006.5 580.2,1004.0 582.2,1001.5 584.2,999.1 586.2,996.6 588.2,994.2 590.2,991.8 592.2,989.4 594.2,987.0 596.2,984.7 598.2,982.4 600.2,980.1 602.2,978.0 604.2,975.9 606.2,973.9 608.2,971.9 610.2,970.1 612.2,968.4 614.2,966.7 616.2,965.1 618.2,963.6 620.2,962.2 622.2,960.8 624.2,959.5 626.2,958.2 628.2,957.1 630.2,956.0 632.2,955.0 634.2,954.2 636.2,953.4 638.2,952.7 640.2,952.0 642.2,951.4 644.2,950.9 646.2,950.4 648.2,949.9 648.6,949.6" fill="none" stroke="#ee3c3c" stroke-width="4.6" stroke-linecap="butt" stroke-linejoin="round"/>
<polyline points="128.2,1126.9 130.2,1126.9 132.2,1126.9 134.2,1126.9 136.2,1126.9 138.2,1126.9 140.2,1126.9 142.2,1126.9 144.2,1126.9 146.2,1126.9 148.2,1126.9 150.2,1126.9 152.2,1126.9 154.2,1126.9 156.2,1126.9 158.2,1126.9 160.2,1126.9 162.2,1126.9 164.2,1126.9 166.2,1126.9 168.2,1126.9 170.2,1126.9 172.2,1126.9 174.2,1126.9 176.2,1126.9 178.2,1126.9 180.2,1126.9 182.2,1126.9 184.2,1126.9 186.2,1126.9 188.2,1126.9 190.2,1126.8 192.2,1126.8 194.2,1126.8 196.2,1126.8 198.2,1126.8 200.2,1126.8 202.2,1126.8 204.2,1126.8 206.2,1126.8 208.2,1126.8 210.2,1126.8 212.2,1126.8 214.2,1126.8 216.2,1126.8 218.2,1126.8 220.2,1126.8 222.2,1126.8 224.2,1126.8 226.2,1126.8 228.2,1126.8 230.2,1126.8 232.2,1126.8 234.2,1126.8 236.2,1126.8 238.2,1126.8 240.2,1126.8 242.2,1126.8 244.2,1126.8 246.2,1126.8 248.2,1126.8 250.2,1126.8 252.2,1126.8 254.2,1126.7 256.2,1126.7 258.2,1126.7 260.2,1126.7 262.2,1126.7 264.2,1126.6 266.2,1126.6 268.2,1126.6 270.2,1126.6 272.2,1126.6 274.2,1126.5 276.2,1126.5 278.2,1126.5 280.2,1126.5 282.2,1126.5 284.2,1126.4 286.2,1126.4 288.2,1126.4 290.2,1126.4 292.2,1126.4 294.2,1126.3 296.2,1126.3 298.2,1126.3 300.2,1126.3 302.2,1126.2 304.2,1126.2 306.2,1126.2 308.2,1126.2 310.2,1126.2 312.2,1126.1 314.2,1126.1 316.2,1126.1 318.2,1126.1 320.2,1126.1 322.2,1126.0 324.2,1126.0 326.2,1126.0 328.2,1126.0 330.2,1125.9 332.2,1125.9 334.2,1125.9 336.2,1125.9 338.2,1125.9 340.2,1125.8 342.2,1125.8 344.2,1125.8 346.2,1125.8 348.2,1125.8 350.2,1125.7 352.2,1125.7 354.2,1125.7 356.2,1125.7 358.2,1125.6 360.2,1125.6 362.2,1125.6 364.2,1125.6 366.2,1125.5 368.2,1125.5 370.2,1125.4 372.2,1125.3 374.2,1125.2 376.2,1125.1 378.2,1125.0 380.2,1124.9 382.2,1124.7 384.2,1124.6 386.2,1124.4 388.2,1124.3 390.2,1124.1 392.2,1124.0 394.2,1123.8 396.2,1123.7 398.2,1123.5 400.2,1123.4 402.2,1123.2 404.2,1123.0 406.2,1122.9 408.2,1122.7 410.2,1122.5 412.2,1122.3 414.2,1122.1 416.2,1121.9 418.2,1121.7 420.2,1121.5 422.2,1121.3 424.2,1121.1 426.2,1120.9 428.2,1120.7 430.2,1120.5 432.2,1120.3 434.2,1120.1 436.2,1119.9 438.2,1119.7 440.2,1119.5 442.2,1119.3 444.2,1119.1 446.2,1118.8 448.2,1118.6 450.2,1118.3 452.2,1118.1 454.2,1117.8 456.2,1117.5 458.2,1117.1 460.2,1116.8 462.2,1116.4 464.2,1116.1 466.2,1115.7 468.2,1115.2 470.2,1114.8 472.2,1114.3 474.2,1113.8 476.2,1113.3 478.2,1112.8 480.2,1112.2 482.2,1111.6 484.2,1111.0 486.2,1110.4 488.2,1109.7 490.2,1109.0 492.2,1108.3 494.2,1107.6 496.2,1106.8 498.2,1106.1 500.2,1105.2 502.2,1104.4 504.2,1103.5 506.2,1102.6 508.2,1101.7 510.2,1100.8 512.2,1099.8 514.2,1098.7 516.2,1097.7 518.2,1096.5 520.2,1095.4 522.2,1094.2 524.2,1093.0 526.2,1091.8 528.2,1090.5 530.2,1089.2 532.2,1087.9 534.2,1086.6 536.2,1085.2 538.2,1083.8 540.2,1082.4 542.2,1081.0 544.2,1079.6 546.2,1078.1 548.2,1076.7 550.2,1075.1 552.2,1073.6 554.2,1072.0 556.2,1070.3 558.2,1068.6 560.2,1066.7 562.2,1064.8 564.2,1062.8 566.2,1060.7 568.2,1058.4 570.2,1056.1 572.2,1053.7 574.2,1051.3 576.2,1048.7 578.2,1046.1 580.2,1043.5 582.2,1040.7 584.2,1038.0 586.2,1035.1 588.2,1032.2 590.2,1029.2 592.2,1026.1 594.2,1023.0 596.2,1019.9 598.2,1016.8 600.2,1013.8 602.2,1010.8 604.2,1007.9 606.2,1005.0 608.2,1002.1 610.2,999.3 612.2,996.3 614.2,993.2 616.2,990.0 618.2,986.6 620.2,983.1 622.2,979.4 624.2,975.4 626.2,971.4 628.2,967.1 630.2,962.8 632.2,958.3 634.2,953.7 636.2,949.1 638.2,944.3 640.2,939.5 642.2,934.6 644.2,929.7 646.2,924.8 648.2,919.9 648.6,917.5" fill="none" stroke="#0000ff" stroke-width="4.6" stroke-linecap="butt" stroke-linejoin="round"/>
<polyline points="128.2,1127.0 130.2,1127.0 132.2,1127.0 134.2,1127.0 136.2,1127.0 138.2,1127.0 140.2,1127.0 142.2,1127.0 144.2,1127.0 146.2,1127.0 148.2,1127.0 150.2,1126.9 152.2,1126.9 154.2,1126.9 156.2,1126.9 158.2,1126.9 160.2,1126.9 162.2,1126.9 164.2,1126.9 166.2,1126.9 168.2,1126.9 170.2,1126.9 172.2,1126.9 174.2,1126.9 176.2,1126.9 178.2,1126.9 180.2,1126.9 182.2,1126.9 184.2,1126.9 186.2,1126.9 188.2,1126.9 190.2,1126.8 192.2,1126.8 194.2,1126.8 196.2,1126.8 198.2,1126.8 200.2,1126.8 202.2,1126.8 204.2,1126.8 206.2,1126.8 208.2,1126.8 210.2,1126.8 212.2,1126.8 214.2,1126.8 216.2,1126.8 218.2,1126.8 220.2,1126.8 222.2,1126.8 224.2,1126.8 226.2,1126.8 228.2,1126.8 230.2,1126.7 232.2,1126.7 234.2,1126.7 236.2,1126.7 238.2,1126.7 240.2,1126.7 242.2,1126.7 244.2,1126.7 246.2,1126.7 248.2,1126.7 250.2,1126.6 252.2,1126.6 254.2,1126.5 256.2,1126.5 258.2,1126.4 260.2,1126.4 262.2,1126.3 264.2,1126.3 266.2,1126.2 268.2,1126.1 270.2,1126.1 272.2,1126.0 274.2,1125.9 276.2,1125.9 278.2,1125.8 280.2,1125.8 282.2,1125.7 284.2,1125.6 286.2,1125.6 288.2,1125.5 290.2,1125.4 292.2,1125.4 294.2,1125.3 296.2,1125.3 298.2,1125.2 300.2,1125.1 302.2,1125.1 304.2,1125.0 306.2,1125.0 308.2,1124.9 310.2,1124.8 312.2,1124.8 314.2,1124.7 316.2,1124.6 318.2,1124.6 320.2,1124.5 322.2,1124.5 324.2,1124.4 326.2,1124.3 328.2,1124.3 330.2,1124.2 332.2,1124.1 334.2,1124.1 336.2,1124.0 338.2,1123.9 340.2,1123.8 342.2,1123.7 344.2,1123.5 346.2,1123.4 348.2,1123.3 350.2,1123.1 352.2,1123.0 354.2,1122.8 356.2,1122.7 358.2,1122.5 360.2,1122.4 362.2,1122.2 364.2,1122.1 366.2,1121.9 368.2,1121.7 370.2,1121.6 372.2,1121.4 374.2,1121.2 376.2,1120.9 378.2,1120.7 380.2,1120.5 382.2,1120.2 384.2,1120.0 386.2,1119.7 388.2,1119.4 390.2,1119.2 392.2,1118.9 394.2,1118.7 396.2,1118.4 398.2,1118.1 400.2,1117.8 402.2,1117.5 404.2,1117.2 406.2,1116.8 408.2,1116.4 410.2,1116.0 412.2,1115.5 414.2,1115.1 416.2,1114.6 418.2,1114.1 420.2,1113.7 422.2,1113.2 424.2,1112.7 426.2,1112.2 428.2,1111.7 430.2,1111.2 432.2,1110.7 434.2,1110.1 436.2,1109.6 438.2,1109.1 440.2,1108.5 442.2,1107.9 444.2,1107.4 446.2,1106.8 448.2,1106.2 450.2,1105.6 452.2,1105.0 454.2,1104.4 456.2,1103.8 458.2,1103.2 460.2,1102.5 462.2,1101.9 464.2,1101.2 466.2,1100.4 468.2,1099.7 470.2,1098.9 472.2,1098.2 474.2,1097.3 476.2,1096.5 478.2,1095.6 480.2,1094.7 482.2,1093.7 484.2,1092.7 486.2,1091.6 488.2,1090.4 490.2,1089.3 492.2,1088.0 494.2,1086.7 496.2,1085.4 498.2,1083.9 500.2,1082.4 502.2,1080.8 504.2,1079.1 506.2,1077.3 508.2,1075.5 510.2,1073.6 512.2,1071.5 514.2,1069.4 516.2,1067.3 518.2,1065.1 520.2,1062.9 522.2,1060.6 524.2,1058.3 526.2,1056.0 528.2,1053.8 530.2,1051.5 532.2,1049.2 534.2,1046.9 536.2,1044.6 538.2,1042.2 540.2,1039.9 542.2,1037.4 544.2,1035.0 546.2,1032.4 548.2,1029.9 550.2,1027.3 552.2,1024.8 554.2,1022.2 556.2,1019.5 558.2,1016.9 560.2,1014.2 562.2,1011.5 564.2,1008.8 566.2,1006.0 568.2,1003.2 570.2,1000.3 572.2,997.5 574.2,994.6 576.2,991.7 578.2,988.8 580.2,986.0 582.2,983.2 584.2,980.5 586.2,977.9 588.2,975.4 590.2,973.0 592.2,970.7 594.2,968.5 596.2,966.4 598.2,964.4 600.2,962.5 602.2,960.6 604.2,958.8 606.2,957.1 608.2,955.4 610.2,953.8 612.2,952.2 614.2,950.7 616.2,949.2 618.2,947.8 620.2,946.5 622.2,945.2 624.2,943.9 626.2,942.8 628.2,941.7 630.2,940.7 632.2,939.9 634.2,939.1 636.2,938.4 638.2,937.9 640.2,937.4 642.2,936.9 644.2,936.5 646.2,936.1 648.2,935.8 648.6,935.6" fill="none" stroke="#4a9a60" stroke-width="4.6" stroke-linecap="butt" stroke-linejoin="round"/>
<path d="M58,639 H305.8 M381,639 H673.3 V1137.6 M67.7,637.8 V1137.6 M58,1128.2 H673.3" fill="none" stroke="#000" stroke-width="2.6"/>
<line x1="305.5" y1="639.8" x2="381.3" y2="639.8" stroke="#000" stroke-width="2.4"/>
<line x1="58" y1="1128.0" x2="67.7" y2="1128.0" stroke="#000" stroke-width="2.6"/>
<text x="51.2" y="1133.3" font-size="16" text-anchor="end">0.00</text>
<line x1="58" y1="1005.7" x2="67.7" y2="1005.7" stroke="#000" stroke-width="2.6"/>
<text x="51.2" y="1011.0" font-size="16" text-anchor="end">0.03</text>
<line x1="58" y1="883.4" x2="67.7" y2="883.4" stroke="#000" stroke-width="2.6"/>
<text x="51.2" y="888.7" font-size="16" text-anchor="end">0.06</text>
<line x1="58" y1="761.1" x2="67.7" y2="761.1" stroke="#000" stroke-width="2.6"/>
<text x="51.2" y="766.4" font-size="16" text-anchor="end">0.09</text>
<line x1="58" y1="638.8" x2="67.7" y2="638.8" stroke="#000" stroke-width="2.6"/>
<text x="51.2" y="644.1" font-size="16" text-anchor="end">0.12</text>
<line x1="67.7" y1="1128" x2="67.7" y2="1137.6" stroke="#000" stroke-width="2.6"/>
<text x="68.2" y="1157" font-size="16" text-anchor="middle">1.5</text>
<line x1="128.3" y1="1128" x2="128.3" y2="1137.6" stroke="#000" stroke-width="2.6"/>
<text x="128.8" y="1157" font-size="16" text-anchor="middle">2.0</text>
<line x1="188.8" y1="1128" x2="188.8" y2="1137.6" stroke="#000" stroke-width="2.6"/>
<text x="189.3" y="1157" font-size="16" text-anchor="middle">2.5</text>
<line x1="249.4" y1="1128" x2="249.4" y2="1137.6" stroke="#000" stroke-width="2.6"/>
<text x="249.9" y="1157" font-size="16" text-anchor="middle">3.0</text>
<line x1="309.9" y1="1128" x2="309.9" y2="1137.6" stroke="#000" stroke-width="2.6"/>
<text x="310.4" y="1157" font-size="16" text-anchor="middle">3.5</text>
<line x1="370.5" y1="1128" x2="370.5" y2="1137.6" stroke="#000" stroke-width="2.6"/>
<text x="371.0" y="1157" font-size="16" text-anchor="middle">4.0</text>
<line x1="431.1" y1="1128" x2="431.1" y2="1137.6" stroke="#000" stroke-width="2.6"/>
<text x="431.6" y="1157" font-size="16" text-anchor="middle">4.5</text>
<line x1="491.6" y1="1128" x2="491.6" y2="1137.6" stroke="#000" stroke-width="2.6"/>
<text x="492.1" y="1157" font-size="16" text-anchor="middle">5.0</text>
<line x1="552.2" y1="1128" x2="552.2" y2="1137.6" stroke="#000" stroke-width="2.6"/>
<text x="552.7" y="1157" font-size="16" text-anchor="middle">5.5</text>
<line x1="612.7" y1="1128" x2="612.7" y2="1137.6" stroke="#000" stroke-width="2.6"/>
<text x="613.2" y="1157" font-size="16" text-anchor="middle">6.0</text>
<line x1="673.3" y1="1128" x2="673.3" y2="1137.6" stroke="#000" stroke-width="2.6"/>
<text x="673.8" y="1157" font-size="16" text-anchor="middle">6.5</text>
<text x="371" y="1187.2" font-size="18" text-anchor="middle">Log(f)</text>
<text transform="translate(14.6,884) rotate(-90)" font-size="18" text-anchor="middle">M"</text>
<text class="sans" x="343" y="625.5" font-size="21.5" text-anchor="middle">b</text>
<line x1="534.7" y1="650.5" x2="571.1" y2="650.5" stroke="#800000" stroke-width="4.5"/>
<text x="575.4" y="656.1" font-size="16">CGNHSCN8</text>
<line x1="534.7" y1="670.5" x2="571.1" y2="670.5" stroke="#ff1ae6" stroke-width="4.5"/>
<text x="575.4" y="676.1" font-size="16">CGNHSCN16</text>
<line x1="534.7" y1="690.5" x2="571.1" y2="690.5" stroke="#cc9900" stroke-width="4.5"/>
<text x="575.4" y="696.1" font-size="16">CGNHSCN24</text>
<line x1="534.7" y1="710.5" x2="571.1" y2="710.5" stroke="#ee3c3c" stroke-width="4.5"/>
<text x="575.4" y="716.1" font-size="16">CGNHSCN32</text>
<line x1="534.7" y1="730.5" x2="571.1" y2="730.5" stroke="#0000ff" stroke-width="4.5"/>
<text x="575.4" y="736.1" font-size="16">CGNHSCN40</text>
<line x1="534.7" y1="750.5" x2="571.1" y2="750.5" stroke="#4a9a60" stroke-width="4.5"/>
<text x="575.4" y="756.1" font-size="16">CGNHSCN48</text>
<text x="209" y="683.3" font-size="16.2" text-anchor="middle">The <tspan fill="#1c1ce8">(B) relaxation peaks</tspan> indicate dipole</text>
<text x="210.5" y="703.3" font-size="16.2" text-anchor="middle">rotation in the crystalline regions of the</text>
<text x="210.2" y="722.6" font-size="16.2" text-anchor="middle">SPE, while broadening and reduction</text>
<text x="209.8" y="741.8" font-size="16.2" text-anchor="middle">indicating a decline in these areas.</text>
<text x="186.5" y="901.7" font-size="16.2" text-anchor="middle">The small relaxation at the peak</text>
<text x="186.2" y="921.3" font-size="16.2" text-anchor="middle">of M" indicates an enhancement</text>
<text x="184.2" y="941.3" font-size="16.2" text-anchor="middle">in the amorphousphase and</text>
<text x="185.1" y="961.3" font-size="16.2" text-anchor="middle">an increase in conductivity.</text>
<text x="401.5" y="670.3" font-size="16" text-anchor="middle">B</text>
<text x="492.5" y="864.0" font-size="16" text-anchor="middle">B</text>
<text x="571.2" y="888.0" font-size="16" text-anchor="middle">B</text>
<text x="640.1" y="916.9" font-size="16" text-anchor="middle">B</text>
<line x1="95.1" y1="988.8" x2="130.4" y2="988.8" stroke="#730000" stroke-width="4.2"/>
<line x1="132.4" y1="989.0" x2="270.5" y2="989.0" stroke="#8c4040" stroke-width="1.7" stroke-dasharray="6.1,5.65"/>
<polygon points="284.5,989.0 264.0,983.2 269.5,989.0 264.0,994.8" fill="#800000"/>
<line x1="95.1" y1="1011.2" x2="130.4" y2="1011.2" stroke="#ff19f0" stroke-width="4.2"/>
<line x1="132.4" y1="1010.7" x2="394.2" y2="1010.7" stroke="#ff22f0" stroke-width="1.7" stroke-dasharray="6.1,5.65"/>
<polygon points="408.2,1010.7 387.7,1004.9 393.2,1010.7 387.7,1016.5" fill="#ff19e6"/>
<line x1="95.1" y1="1031.0" x2="130.4" y2="1031.0" stroke="#cd960a" stroke-width="4.2"/>
<line x1="132.4" y1="1031.1" x2="463.5" y2="1031.1" stroke="#d2861e" stroke-width="1.7" stroke-dasharray="6.1,5.65"/>
<polygon points="477.5,1031.1 457.0,1025.3 462.5,1031.1 457.0,1036.9" fill="#d28c0a"/>
<line x1="95.1" y1="1052.2" x2="130.4" y2="1052.2" stroke="#4bcd4b" stroke-width="4.2"/>
<line x1="132.4" y1="1052.3" x2="518.7" y2="1052.3" stroke="#40c840" stroke-width="1.7" stroke-dasharray="6.1,5.65"/>
<polygon points="532.7,1052.3 512.2,1046.5 517.7,1052.3 512.2,1058.1" fill="#46c83c"/>
<line x1="95.1" y1="1073.2" x2="130.4" y2="1073.2" stroke="#ff0000" stroke-width="4.2"/>
<line x1="132.4" y1="1071.9" x2="526.5" y2="1071.9" stroke="#f06464" stroke-width="1.7" stroke-dasharray="6.1,5.65"/>
<polygon points="540.5,1071.9 520.0,1066.1 525.5,1071.9 520.0,1077.7" fill="#eb3c3c"/>
<line x1="95.1" y1="1093.4" x2="130.4" y2="1093.4" stroke="#0000ff" stroke-width="4.2"/>
<line x1="132.4" y1="1093.0" x2="539.5" y2="1093.0" stroke="#3c3cf0" stroke-width="1.7" stroke-dasharray="6.1,5.65"/>
<polygon points="553.5,1093.0 533.0,1087.2 538.5,1093.0 533.0,1098.8" fill="#0000ff"/>
</svg>
</body></html>
